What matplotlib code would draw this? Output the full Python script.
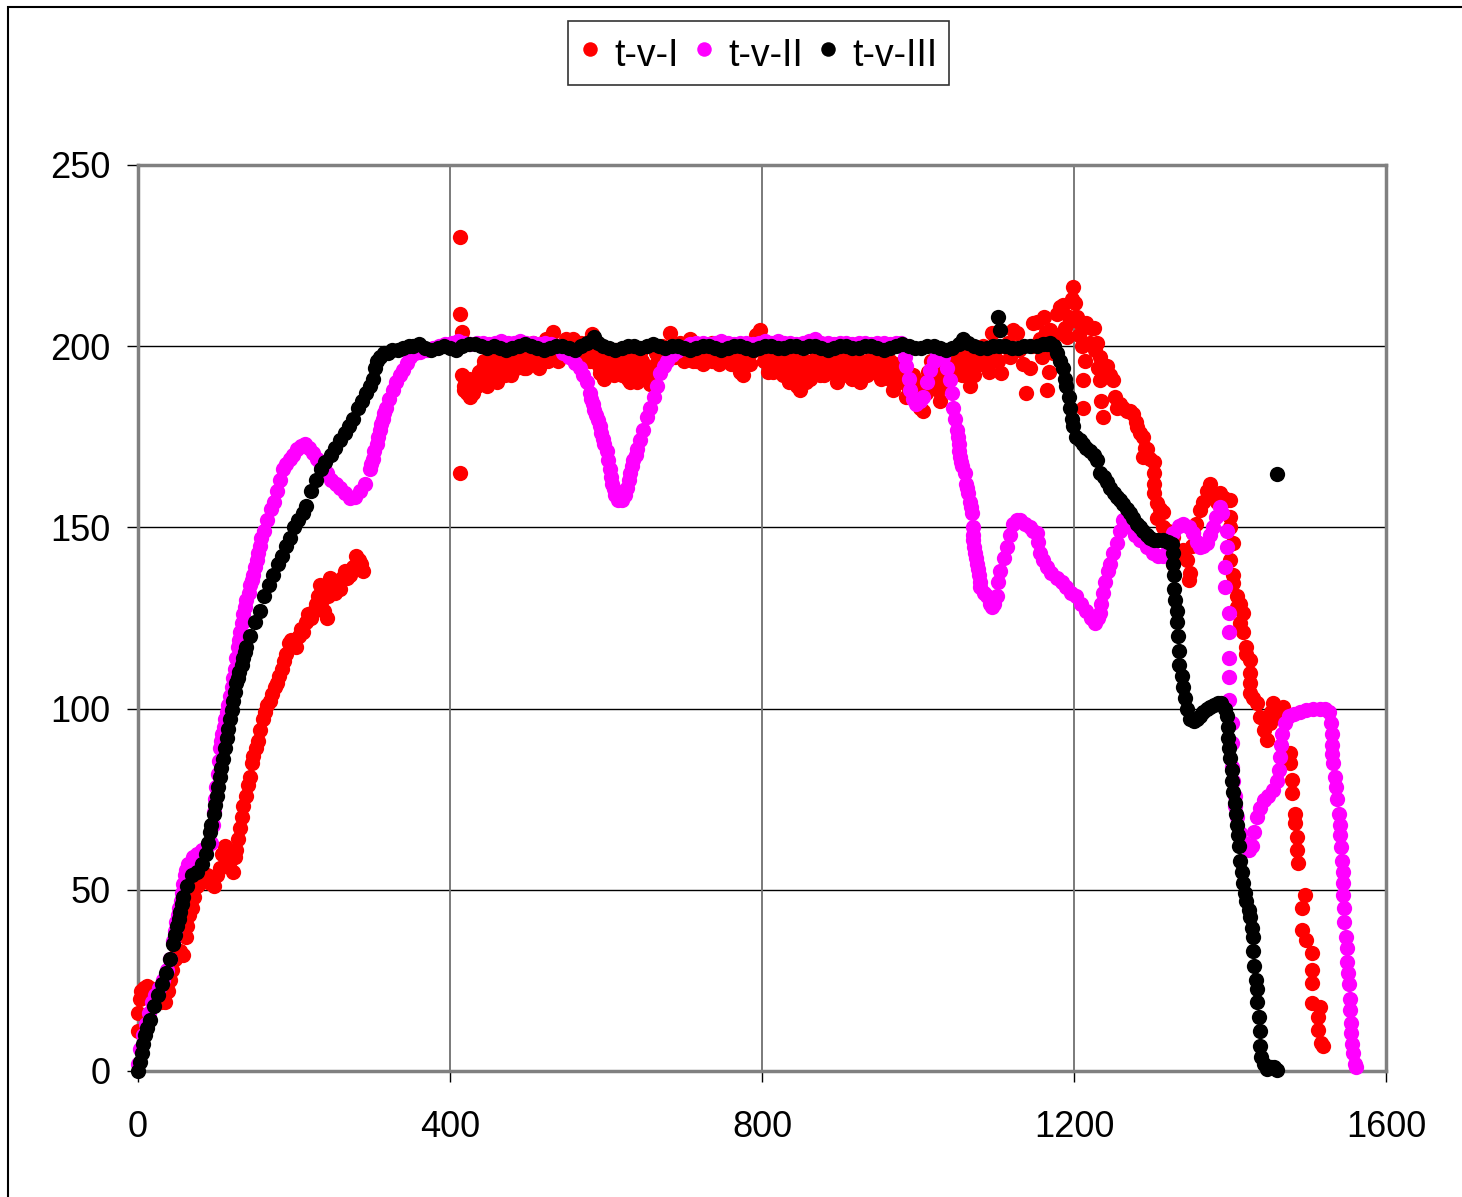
import numpy as np
import matplotlib
matplotlib.use("Agg")
import matplotlib.pyplot as plt
from matplotlib.patches import Rectangle

plt.rcParams["font.family"] = ["Liberation Sans", "DejaVu Sans"]

# ---- series t-v-I (red) : (t, v) points ----
red_rise = [(0, 16), (0, 11), (2, 20), (4, 22), (8, 23), (12, 23.5), (16, 23), (20, 21), (25, 20),
            (30, 19), (35, 19), (38, 22), (41, 25), (44, 28), (47, 31), (50, 33), (54, 33), (58, 32),
            (61, 37), (63, 40), (66, 43), (69, 45), (72, 48), (75, 51), (79, 52), (84, 53), (88, 54),
            (92, 52), (97, 51), (101, 54), (105, 56), (108, 60), (111, 62), (114, 60), (118, 58),
            (122, 55), (124, 59), (126, 61), (128, 64), (131, 67), (133, 70), (135, 73), (138, 76),
            (141, 79), (144, 81), (146, 85), (148, 87), (151, 89), (154, 91), (157, 94), (160, 97),
            (163, 99), (166, 101), (169, 102), (172, 104), (175, 106), (178, 107), (181, 109),
            (184, 111), (187, 113), (190, 115), (193, 118), (196, 119), (199, 118), (203, 117),
            (206, 120), (209, 122), (212, 121), (215, 124), (218, 126), (222, 125), (225, 127),
            (228, 129), (231, 131), (233, 134), (236, 130), (239, 127), (242, 125), (244, 131),
            (246, 136), (249, 134), (252, 132), (255, 134), (259, 133), (262, 136), (265, 138),
            (268, 136), (272, 137), (276, 139), (280, 142), (283, 141), (286, 140), (288, 138)]

red_cruise = [(413, 230), (413, 209), (415, 204), (413, 165), (416, 192), (418, 189), (420, 190),
              (422, 187), (425, 186), (428, 188), (431, 190), (434, 189), (437, 193), (440, 191),
              (444, 196), (447, 191), (450, 194), (453, 197), (456, 192), (460, 193), (463, 198),
              (466, 195), (470, 192), (473, 197), (477, 195), (480, 199), (484, 194), (488, 197),
              (492, 200), (495, 194), (498, 194), (502, 198), (506, 201), (510, 196), (515, 197),
              (519, 200), (523, 202), (527, 199), (532, 204), (536, 200), (540, 197), (545, 199),
              (549, 202), (553, 198), (558, 202), (562, 200), (566, 197), (570, 199), (575, 201),
              (579, 198), (582, 203.5), (586, 199), (590, 195), (592, 192.5), (596, 196), (601, 192),
              (605, 197), (609, 194), (613, 199), (617, 195), (621, 192), (625, 197), (628, 194),
              (631, 190), (635, 196), (639, 193), (643, 198), (647, 194), (651, 191), (656, 189.5),
              (660, 194), (664, 198), (668, 196), (672, 200), (677, 199), (682, 203.6), (686, 200),
              (690, 198), (695, 201), (699, 197), (703, 199), (708, 202), (712, 198), (716, 196),
              (720, 200), (724, 198), (728, 196), (732, 199), (736, 201), (740, 198), (745, 195),
              (750, 199), (755, 197), (759, 200), (763, 196), (766, 199), (770, 194), (773, 197),
              (776, 192), (780, 195), (784, 198), (788, 201), (792, 203), (797, 204.5), (801, 199),
              (805, 197), (810, 195), (814, 193), (818, 196), (822, 198), (827, 192), (831, 195),
              (835, 190), (840, 197), (845, 189), (849, 188), (853, 193), (857, 196), (861, 191),
              (866, 194), (870, 198), (874, 192), (878, 195), (883, 197), (887, 193), (891, 196),
              (896, 190), (900, 194), (904, 197), (909, 192), (913, 195), (917, 193), (922, 197),
              (926, 190), (930, 195), (934, 192), (939, 196), (943, 199), (947, 194), (952, 191),
              (956, 195), (960, 192), (964, 196), (968, 188), (972, 193), (976, 190), (981, 194),
              (985, 186), (989, 191), (994, 189), (998, 185), (1003, 183), (1007, 182), (1010, 187),
              (1013, 193), (1017, 196), (1021, 191), (1025, 188), (1028, 185), (1032, 190),
              (1036, 195), (1040, 197), (1044, 194), (1048, 199), (1052, 196), (1056, 192),
              (1060, 197), (1064, 194), (1067, 189), (1071, 196), (1075, 199), (1079, 195),
              (1083, 200), (1087, 197), (1091, 193), (1095, 203.6), (1099, 199), (1103, 196),
              (1107, 192.5), (1110, 200), (1115, 201), (1118, 197), (1122, 204.5), (1127, 203.6),
              (1130, 199), (1134, 195), (1139, 187), (1143, 194), (1146, 200), (1148, 206.4),
              (1152, 206.7), (1156, 202), (1159, 197), (1161, 208), (1164, 204), (1165, 188),
              (1168, 193), (1169, 204.5), (1173, 198), (1176, 203), (1178, 209), (1182, 210.8),
              (1186, 211.4), (1188, 205), (1191, 202.6), (1193, 208), (1195, 207), (1197, 213),
              (1199, 216.4), (1201, 212), (1204, 208), (1206, 203), (1208, 206.4)]

# second pass of red readings that fill the dense cruise band
red_band = [(418, 188), (424, 191), (430, 187), (436, 192), (442, 194), (448, 189), (454, 195),
            (460, 190), (466, 193), (472, 195), (478, 192), (484, 197), (490, 195), (496, 197),
            (502, 195), (508, 198), (514, 194), (520, 197), (526, 196), (532, 199), (538, 196),
            (544, 198), (550, 200), (556, 197), (562, 198), (568, 201), (574, 199), (580, 196),
            (586, 197), (592, 194), (598, 191), (604, 195), (610, 192), (616, 193), (622, 195),
            (628, 191), (634, 193), (640, 190), (646, 196), (652, 193), (658, 192), (664, 195),
            (670, 197), (676, 196), (682, 199), (688, 197), (694, 199), (700, 196), (706, 198),
            (712, 196), (718, 198), (724, 195), (730, 197), (736, 196), (742, 199), (748, 196),
            (754, 198), (760, 195), (766, 196), (772, 193), (778, 197), (784, 195), (790, 199),
            (796, 200), (802, 196), (808, 193), (814, 196), (820, 194), (826, 196), (832, 193),
            (838, 192), (844, 194), (850, 191), (856, 190), (862, 194), (868, 196), (874, 194),
            (880, 192), (886, 196), (892, 194), (898, 192), (904, 195), (910, 194), (916, 191),
            (922, 194), (928, 193), (934, 196), (940, 193), (946, 197), (952, 194), (958, 193),
            (964, 191), (970, 195), (976, 193), (982, 190), (988, 188), (994, 192), (1000, 187),
            (1006, 190), (1012, 190), (1018, 193), (1024, 194), (1030, 192), (1036, 192),
            (1042, 196), (1048, 195), (1054, 194), (1060, 193), (1066, 195), (1072, 192),
            (1078, 197), (1084, 196), (1090, 196), (1096, 197)]

red_fall = [(1210, 200), (1212, 190.7), (1212, 183), (1214, 196), (1216, 206.4), (1220, 201),
            (1222, 205), (1225, 205), (1227, 199), (1229, 200.9), (1231, 194), (1233, 197),
            (1233, 190.7), (1235, 185), (1237, 180.5), (1240, 192), (1242, 194.4), (1246, 192),
            (1250, 190.7), (1253, 186), (1255, 183), (1259, 184), (1263, 183), (1268, 182),
            (1272, 182), (1276, 181.4), (1279, 179), (1281, 177.8), (1285, 176), (1289, 175),
            (1291, 172), (1289, 169.5), (1294, 171.5), (1298, 169), (1302, 168), (1302, 165),
            (1302, 162), (1302, 159.5), (1306, 156.7), (1310, 155), (1314, 154.3), (1306, 152.6),
            (1314, 150), (1320, 149), (1327, 147.3), (1325, 143), (1327, 140), (1333, 142),
            (1340, 143.8), (1345, 141), (1349, 137.4), (1347, 135.5), (1351, 145), (1353, 148.5),
            (1357, 151), (1362, 154.8), (1366, 157), (1370, 160), (1374, 162), (1378, 158),
            (1383, 157), (1387, 159.5), (1392, 158), (1396, 157.6), (1400, 157.6), (1400, 153),
            (1400, 150), (1404, 145.7), (1400, 141), (1404, 137), (1404, 134.7), (1409, 131),
            (1409, 128), (1413, 129), (1417, 126.4), (1413, 123.6), (1417, 121), (1421, 117),
            (1421, 115), (1426, 113.4), (1426, 109.8), (1426, 107), (1426, 104.3), (1430, 103),
            (1434, 101.5), (1438, 97.8), (1443, 94), (1447, 91.3), (1451, 96), (1453, 99),
            (1455, 101.5), (1460, 98), (1464, 99), (1468, 100.5), (1472, 97), (1477, 87.7),
            (1477, 85), (1479, 80.3), (1480, 76.6), (1483, 71), (1483, 68.4), (1486, 64.6),
            (1486, 61), (1487, 57.4), (1496, 48.6), (1492, 45), (1492, 38.9), (1498, 36.1),
            (1505, 32.5), (1505, 27.9), (1505, 24.3), (1505, 18.7), (1515, 17.7), (1513, 14.9),
            (1513, 11.3), (1517, 7.7), (1519, 7)]

# ---- series t-v-II (magenta) ----
mag_rise = [(0, 2), (3, 6), (6, 10), (10, 13), (14, 16), (18, 19), (22, 21), (27, 23), (32, 25),
            (37, 28), (41, 31), (45, 36), (47, 38.5), (49, 41), (51, 43), (53, 45), (55, 47),
            (56, 49), (58, 51.5), (60, 54), (62, 55.5), (64, 57), (70, 59), (76, 60), (82, 61),
            (88, 62), (93, 63), (96, 68), (97.5, 71.5), (99, 75), (100.5, 78.5), (102, 82),
            (103.5, 85.5), (105, 89), (106.5, 91), (108, 93), (110, 95), (112, 97), (114, 99),
            (116, 101), (118, 103.5), (120, 106), (122, 108.5), (124, 111), (126, 114), (128, 117),
            (130, 119), (131, 121), (133, 123.5), (135, 126), (137, 128), (139, 130), (142, 132),
            (144, 134), (146, 135.5), (148, 137), (150, 139), (152, 141), (154, 143), (156, 145),
            (158, 147), (161, 149), (165, 152), (170, 155), (174, 157), (178, 160), (182, 163),
            (186, 166), (190, 167.5), (195, 169), (199, 170), (204, 171.5), (209, 172.5), (214, 173),
            (219, 172), (224, 170.5), (229, 169), (235, 167), (242, 165), (248, 163), (254, 162),
            (259, 161), (265, 159.5), (272, 158), (278, 158.5), (285, 160), (291, 162), (297, 166),
            (299, 167.5), (301, 169), (303, 171), (306, 173), (308, 175), (310, 177), (312, 178.5),
            (314, 180), (316, 181.5), (318, 183), (322, 185.5), (327, 188), (331, 190), (336, 192),
            (340, 193.5), (345, 195.5), (349, 197), (355, 198), (362, 198.5), (370, 199),
            (378, 199.5), (386, 200), (394, 200.5), (402, 201), (410, 201.5), (418, 201),
            (426, 200.5), (434, 201), (442, 201), (450, 200.5), (458, 201), (466, 201.5),
            (474, 201), (482, 201), (490, 201.5), (498, 201), (506, 201), (514, 200.5),
            (522, 201), (530, 200.5), (538, 200)]

mag_dip = [(545, 198), (552, 197), (560, 195.5), (567, 194), (571, 192), (575, 190), (579, 187),
           (581, 185.5), (583, 184), (585, 182.5), (587, 181), (590, 179.5), (592, 178),
           (594, 176), (596, 174.5), (598, 173), (601, 171), (603, 168.5), (605, 166), (606, 164),
           (608, 162), (610, 160.5), (611, 159), (615, 157.6), (620, 157.6), (624, 159), (627, 161),
           (629, 163), (631, 165), (633, 167), (635, 168.6), (638, 170), (640, 171.5), (644, 174),
           (648, 177), (652, 180.5), (657, 183), (661, 186), (665, 189), (669, 192.5), (674, 194.5),
           (678, 196), (685, 197.5), (691, 198.6), (700, 199.5), (708, 200.5), (716, 201),
           (724, 201), (732, 200.5), (740, 201), (748, 201.5), (756, 201), (764, 200.5), (772, 201),
           (780, 201), (788, 200.5), (796, 201), (804, 201.5), (812, 201), (820, 201.5), (828, 201),
           (836, 201), (844, 200.5), (852, 201), (860, 201.5), (868, 202), (876, 201), (884, 201),
           (892, 200.5), (900, 201), (908, 201), (916, 200.5), (924, 201), (932, 201), (940, 200.5),
           (948, 201), (956, 201), (964, 200.5), (972, 201), (978, 201)]

mag_fall = [(981, 200), (983, 197), (985, 194.4), (988, 191), (990, 188), (994, 185.5), (998, 184),
            (1003, 185), (1007, 186), (1011, 190), (1015, 193.4), (1020, 196), (1024, 198),
            (1028, 198), (1032, 197), (1037, 194), (1041, 190.7), (1043, 187), (1045, 183),
            (1048, 180), (1050, 177), (1051, 175), (1052, 173), (1053, 171), (1054, 169.5),
            (1055, 168), (1057, 167), (1060, 165), (1062, 162), (1063, 161), (1064, 159.5),
            (1067, 157), (1068, 155.5), (1069, 154), (1070, 150), (1070, 148), (1071, 146.5),
            (1072, 144.5), (1073, 143), (1074, 141.5), (1075, 140), (1077, 138.5), (1078, 137),
            (1079, 135), (1080, 133.6), (1084, 132), (1088, 131), (1092, 129), (1095, 128),
            (1098, 129), (1101, 131), (1103, 135), (1105, 138), (1110, 141.5), (1114, 144.6),
            (1118, 148), (1122, 151), (1127, 152), (1131, 152), (1137, 151), (1144, 150),
            (1148, 149), (1152, 148.5), (1154, 146), (1156, 143), (1160, 141), (1165, 139),
            (1171, 137.5), (1178, 136), (1184, 135), (1190, 133.6), (1196, 132), (1203, 131),
            (1209, 129), (1216, 127), (1222, 125), (1227, 123.6), (1231, 125), (1233, 126.4),
            (1235, 129), (1237, 132), (1240, 135), (1243, 138), (1246, 140), (1250, 143),
            (1255, 145.7), (1259, 149), (1263, 152), (1268, 151), (1272, 150), (1278, 148),
            (1285, 146.5), (1293, 144.5), (1301, 143), (1308, 142), (1314, 142), (1320, 145),
            (1327, 148.5), (1334, 150.5), (1340, 151), (1347, 150), (1353, 148.5), (1358, 146),
            (1362, 144.7), (1366, 145), (1370, 145.7), (1374, 148), (1378, 150), (1382, 153),
            (1387, 155.6), (1390, 154), (1396, 149), (1396, 144.7), (1394, 139), (1394, 133.6),
            (1399, 126.4), (1399, 121), (1399, 114), (1399, 108.7), (1399, 102.4), (1402, 96),
            (1402, 90.5), (1403, 84), (1404, 80), (1406, 76), (1407, 73), (1409, 70), (1413, 65.6),
            (1418, 63), (1424, 61), (1428, 62), (1431, 66), (1434, 70), (1438, 72.5), (1443, 74.8),
            (1449, 76), (1455, 77.5), (1460, 80), (1463, 83), (1464, 86.7), (1465, 90), (1467, 93),
            (1470, 96), (1475, 98), (1482, 98.5), (1490, 99), (1498, 99.5), (1507, 100), (1515, 100),
            (1522, 100), (1527, 99), (1530, 96), (1531, 93), (1531, 90), (1531, 87.6), (1532, 85),
            (1535, 81), (1536, 78.5), (1537, 75), (1540, 71), (1541, 68), (1541, 65), (1542, 61.8),
            (1544, 58), (1545, 55), (1545, 52), (1545, 48.6), (1546, 45), (1546, 41), (1549, 37),
            (1550, 34), (1550, 30), (1551, 27), (1552, 24), (1554, 20), (1554, 16.8), (1555, 13.2),
            (1555, 10.5), (1557, 7.5), (1558, 5), (1560, 2), (1562, 1)]

# ---- series t-v-III (black) ----
blk_rise = [(0, 0), (3, 2.5), (5, 5), (7, 7.5), (9, 10), (12, 12), (15, 14), (20, 18), (26, 21),
            (31, 24), (36, 27), (41, 31), (45, 35), (48, 37.5), (50, 40), (52, 42), (54, 44),
            (56, 46), (58, 48), (63, 51), (69, 54), (75, 55), (82, 57), (87, 60), (90, 63), (92, 66),
            (94, 68), (97, 71), (99, 73.5), (101, 76), (103, 78.5), (105, 81), (107, 83.5),
            (109, 86), (111, 89), (114, 92), (116, 94.5), (118, 97), (120, 99.5), (122, 102),
            (124, 104.5), (126, 107), (128, 108.5), (130, 110), (133, 112), (135, 114),
            (137, 115.5), (139, 117), (144, 120), (150, 124), (156, 127), (162, 131), (168, 134),
            (173, 137), (179, 140), (184, 142), (190, 145), (195, 147), (200, 150), (205, 152),
            (211, 154), (216, 156), (222, 160), (228, 163), (234, 166), (240, 168), (247, 170),
            (253, 172), (259, 174), (265, 176), (270, 178), (276, 180), (282, 183), (287, 185),
            (292, 187), (297, 189), (301, 191), (304, 194), (307, 196), (310, 197), (315, 198),
            (320, 198), (326, 199), (333, 199), (340, 199.5), (347, 200)]

blk_cruise = [(353, 200), (360, 200.5), (368, 199.5), (376, 199), (384, 199.5), (392, 200),
              (400, 199.5), (408, 199), (416, 200), (424, 200.5), (432, 200.5), (440, 200),
              (448, 199.5), (456, 200), (464, 199.5), (472, 199), (480, 199.5), (488, 200),
              (496, 200.5), (504, 200), (512, 199.5), (520, 199), (528, 199.5), (536, 200),
              (544, 200), (552, 199.5), (560, 199), (568, 200), (576, 201), (584, 202.5),
              (590, 201), (596, 200), (604, 199.5), (612, 199), (620, 199.5), (628, 200),
              (636, 200), (644, 199.5), (652, 200), (660, 200.5), (668, 200), (676, 199.5),
              (684, 200), (692, 200), (700, 199.5), (708, 199), (716, 199.5), (724, 200),
              (732, 200), (740, 199.5), (748, 199), (756, 199.5), (764, 200), (772, 200),
              (780, 199.5), (788, 199), (796, 199.5), (804, 200), (812, 200), (820, 199.5),
              (828, 199.5), (836, 200), (844, 200), (852, 199.5), (860, 200), (868, 200),
              (876, 199.5), (884, 199), (892, 199.5), (900, 200), (908, 200), (916, 199.5),
              (924, 199.5), (932, 200), (940, 200), (948, 199.5), (956, 199), (964, 199.5),
              (972, 200), (980, 200.5), (988, 200), (996, 199.5), (1004, 199.5), (1012, 200),
              (1020, 200), (1028, 199.5), (1036, 199), (1044, 199.5), (1052, 200.5), (1058, 202),
              (1064, 201), (1072, 200), (1080, 199.5), (1088, 199.5), (1096, 200), (1103, 208),
              (1105, 204.5), (1104, 200), (1112, 200), (1120, 199.5), (1128, 199.5), (1136, 200),
              (1144, 200), (1152, 200), (1160, 200.5), (1166, 200.5)]

blk_fall = [(1169, 201), (1174, 200), (1178, 198), (1182, 196), (1186, 194), (1188, 191),
            (1190, 189), (1193, 186), (1195, 183), (1197, 180), (1199, 178), (1203, 175),
            (1208, 174), (1212, 173), (1216, 172), (1220, 171), (1225, 170), (1229, 168.6),
            (1233, 165), (1238, 164), (1242, 162.5), (1246, 161), (1251, 159.5), (1255, 158.5),
            (1259, 157.6), (1263, 156.5), (1268, 155), (1272, 154), (1276, 152.5), (1281, 151),
            (1285, 150), (1289, 149), (1293, 148), (1297, 147), (1302, 146.5), (1308, 146.5),
            (1314, 146.5), (1320, 146), (1325, 145.5), (1327, 143), (1327, 140), (1328, 137),
            (1328, 133), (1330, 130), (1332, 127), (1332, 124), (1333, 120), (1334, 116),
            (1335, 112), (1338, 109), (1340, 106), (1342, 103), (1345, 100), (1349, 97),
            (1354, 96.5), (1358, 97), (1362, 98), (1366, 99), (1370, 100), (1374, 100.5),
            (1379, 101), (1384, 101.5), (1389, 101.5), (1393, 100), (1396, 98), (1397, 95),
            (1398, 92), (1399, 89), (1400, 86.5), (1402, 83), (1403, 80), (1404, 77), (1406, 74),
            (1408, 71), (1409, 68), (1410, 65), (1411, 62), (1413, 58), (1415, 55), (1417, 52),
            (1419, 49), (1421, 47), (1424, 44.5), (1426, 42.5), (1428, 39.5), (1430, 37),
            (1430, 33), (1431, 29), (1433, 25), (1434, 22.5), (1435, 19), (1437, 15), (1438, 11),
            (1438, 7), (1440, 4), (1443, 2), (1447, 0.5), (1452, 1), (1456, 1), (1460, 0.3),
            (1460, 164.7)]

x_ticks = [0, 400, 800, 1200, 1600]
y_ticks = [0, 50, 100, 150, 200, 250]

series = [
    ("t-v-I", "#FF0000", red_rise + red_cruise + red_band + red_fall),
    ("t-v-II", "#FF00FF", mag_rise + mag_dip + mag_fall),
    ("t-v-III", "#000000", blk_rise + blk_cruise + blk_fall),
]

W, H = 1462, 1197
fig = plt.figure(figsize=(W / 100, H / 100), dpi=100)
ax = fig.add_axes([138 / W, 1 - 1071 / H, (1386 - 138) / W, (1071 - 165) / H])

# outer chart border
fig.add_artist(Rectangle((8 / W, -0.1), 1.2, 1.1 - 7 / H, transform=fig.transFigure,
                         fill=False, edgecolor="#000000", linewidth=1.5))

handles = []
for name, col, pts in series:
    arr = np.array(pts, dtype=float)
    h, = ax.plot(arr[:, 0], arr[:, 1], "o", color=col, ms=11, mew=0, label=name,
                 clip_on=False, zorder=3)
    handles.append(h)

ax.set_xlim(0, 1600)
ax.set_ylim(0, 250)
ax.set_xticks(x_ticks)
ax.set_yticks(y_ticks)
ax.set_xticklabels([str(v) for v in x_ticks])
ax.set_yticklabels([str(v) for v in y_ticks])
ax.tick_params(direction="out", length=8, width=1, colors="black", labelsize=26)
ax.tick_params(axis="x", pad=20)
ax.tick_params(axis="y", pad=12)

for y in y_ticks[1:-1]:
    ax.axhline(y, color="black", lw=1, zorder=1)
for x in x_ticks[1:-1]:
    ax.axvline(x, color="#707070", lw=1.3, zorder=1)

for s in ax.spines.values():
    s.set_color("#808080")
    s.set_linewidth(2.5)
ax.axhline(0, color="black", lw=1, zorder=2)
ax.axvline(0, color="black", lw=1, zorder=2)

leg = fig.legend(handles=handles, loc="center", bbox_to_anchor=(758.5 / W, 1 - 53 / H),
                 ncol=3, fontsize=27, frameon=True, fancybox=False, shadow=False,
                 handlelength=0.6, handleheight=1.3, handletextpad=0.35, columnspacing=0.37,
                 borderpad=0.3, markerscale=0.95)
leg.get_frame().set_edgecolor("black")
leg.get_frame().set_linewidth(1.2)

fig.savefig("out.png", dpi=100)
